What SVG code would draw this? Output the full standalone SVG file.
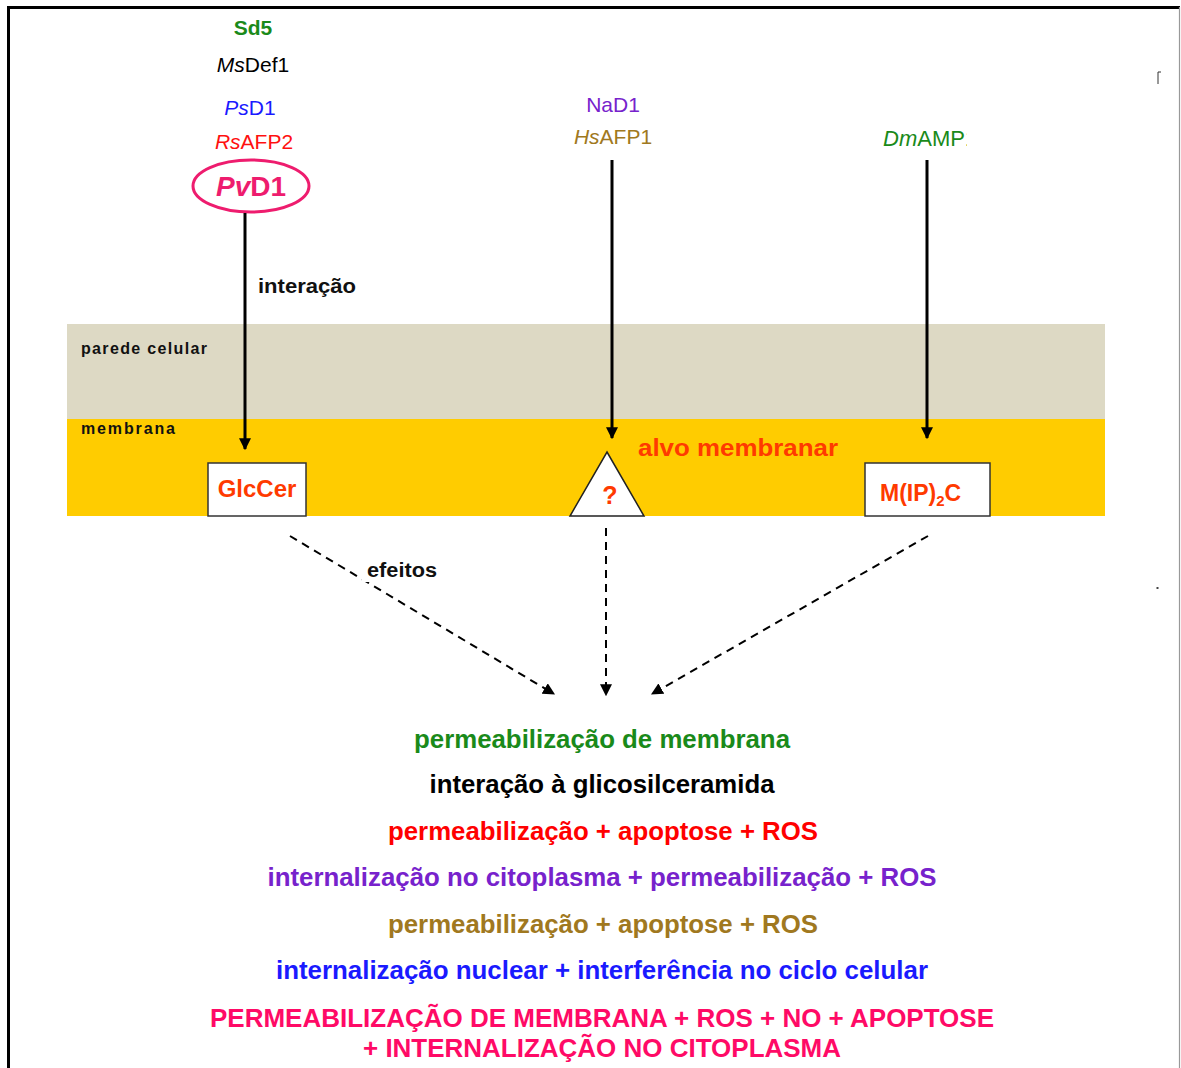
<svg xmlns="http://www.w3.org/2000/svg" width="1181" height="1068" viewBox="0 0 1181 1068">
<defs>
<style>
text{font-family:"Liberation Sans",Arial,sans-serif;}
.b{font-weight:bold;}
.c{text-anchor:middle;}
.res{font-weight:bold;font-size:25px;text-anchor:middle;}
.solid{stroke:#000;stroke-width:3;fill:none;}
.dash{stroke:#000;stroke-width:2;fill:none;stroke-dasharray:8 6;}
.box{fill:#fff;stroke:#333;stroke-width:1.5;}
.tgt{fill:#ff3a00;font-weight:bold;}
</style>
<marker id="ah" viewBox="0 0 10 10" refX="9" refY="5" markerWidth="4" markerHeight="4" orient="auto" markerUnits="strokeWidth">
<path d="M0,0 L10,5 L0,10 z" fill="#000"/>
</marker>
<marker id="ahd" viewBox="0 0 10 10" refX="9" refY="5" markerWidth="6" markerHeight="6" orient="auto" markerUnits="strokeWidth">
<path d="M0,0 L10,5 L0,10 z" fill="#000"/>
</marker>
<clipPath id="clipDm"><rect x="860" y="120" width="107" height="40"/></clipPath>
</defs>
<rect x="0" y="0" width="1181" height="1068" fill="#fff"/>
<g id="frame">
<path d="M8.5,1068 V7.5 H1180" fill="none" stroke="#000" stroke-width="3"/>
<line x1="1179.5" y1="7" x2="1179.5" y2="1068" stroke="#999" stroke-width="1.2"/>
<path d="M1158,84 V72 H1161" fill="none" stroke="#333" stroke-width="1"/>
<rect x="1156.5" y="587" width="2" height="2" fill="#444"/>
</g>
<g id="layers">
<rect x="67" y="324" width="1038" height="95" fill="#ddd9c4"/>
<rect x="67" y="419" width="1038" height="97" fill="#ffcc00"/>
<text x="81" y="354" class="b" font-size="16" textLength="126" lengthAdjust="spacing" fill="#111">parede celular</text>
<text x="81" y="434" class="b" font-size="16" textLength="94" lengthAdjust="spacing" fill="#111">membrana</text>
</g>
<g id="defensins-left">
<text x="253" y="35" class="b c" font-size="21" fill="#1a8a1a">Sd5</text>
<text x="253" y="72" class="c" font-size="21" fill="#000"><tspan font-style="italic">Ms</tspan>Def1</text>
<text x="250" y="115" class="c" font-size="21" fill="#1a1aff"><tspan font-style="italic">Ps</tspan>D1</text>
<text x="254" y="149" class="c" font-size="21" fill="#ff1010"><tspan font-style="italic">Rs</tspan>AFP2</text>
</g>
<g id="pvd1">
<ellipse cx="251" cy="186" rx="58" ry="26" fill="#fff" stroke="#ee1c6e" stroke-width="3"/>
<text x="251" y="196" class="b c" font-size="28" fill="#ee1c6e"><tspan font-style="italic">Pv</tspan>D1</text>
</g>
<g id="defensins-mid">
<text x="613" y="112" class="c" font-size="21" fill="#7722cc">NaD1</text>
<text x="613" y="144" class="c" font-size="21" fill="#a07820"><tspan font-style="italic">Hs</tspan>AFP1</text>
</g>
<g id="defensins-right">
<text x="883" y="146" font-size="22" fill="#1a8a1a" clip-path="url(#clipDm)"><tspan font-style="italic">Dm</tspan>AMP1</text>
</g>
<g id="glccer">
<rect x="208" y="463" width="98" height="53" class="box"/>
<text x="257" y="497" class="tgt c" font-size="24">GlcCer</text>
</g>
<g id="unknown-target">
<polygon points="607,452 644,516 570,516" fill="#fff" stroke="#222" stroke-width="1.5"/>
<text x="610" y="504" class="tgt c" font-size="25">?</text>
<text x="638" y="456" class="tgt" font-size="24" textLength="200" lengthAdjust="spacingAndGlyphs">alvo membranar</text>
</g>
<g id="mip2c">
<rect x="865" y="463" width="125" height="53" class="box"/>
<text x="880" y="501" class="tgt" font-size="23">M(IP)<tspan font-size="15" dy="5">2</tspan><tspan dy="-5">C</tspan></text>
</g>
<g id="connectors">
<line x1="245" y1="213" x2="245" y2="449" class="solid" marker-end="url(#ah)"/>
<line x1="612" y1="160" x2="612" y2="438" class="solid" marker-end="url(#ah)"/>
<line x1="927" y1="160" x2="927" y2="438" class="solid" marker-end="url(#ah)"/>
<line x1="290" y1="536" x2="554" y2="694" class="dash" marker-end="url(#ahd)"/>
<line x1="606" y1="528" x2="606" y2="695" class="dash" marker-end="url(#ahd)"/>
<line x1="928" y1="536" x2="652" y2="694" class="dash" marker-end="url(#ahd)"/>
<text x="258" y="293" class="b" font-size="21" textLength="98" lengthAdjust="spacingAndGlyphs" fill="#111">interação</text>
<rect x="362" y="558" width="76" height="24" fill="#fff"/>
<text x="367" y="577" class="b" font-size="20" textLength="70" lengthAdjust="spacingAndGlyphs" fill="#111">efeitos</text>
</g>
<g id="results">
<text x="602" y="748" class="res" fill="#1a8a1a" textLength="376" lengthAdjust="spacingAndGlyphs">permeabilização de membrana</text>
<text x="602" y="793" class="res" fill="#000" textLength="345" lengthAdjust="spacingAndGlyphs">interação à glicosilceramida</text>
<text x="603" y="840" class="res" fill="#ff0000" textLength="430" lengthAdjust="spacingAndGlyphs">permeabilização + apoptose + ROS</text>
<text x="602" y="886" class="res" fill="#7722cc" textLength="669" lengthAdjust="spacingAndGlyphs">internalização no citoplasma + permeabilização + ROS</text>
<text x="603" y="933" class="res" fill="#a07820" textLength="430" lengthAdjust="spacingAndGlyphs">permeabilização + apoptose + ROS</text>
<text x="602" y="979" class="res" fill="#1a1aff" textLength="652" lengthAdjust="spacingAndGlyphs">internalização nuclear + interferência no ciclo celular</text>
<text x="602" y="1027" class="res" fill="#ff0a66" textLength="784" lengthAdjust="spacingAndGlyphs">PERMEABILIZAÇÃO DE MEMBRANA + ROS + NO + APOPTOSE</text>
<text x="602" y="1057" class="res" fill="#ff0a66" textLength="478" lengthAdjust="spacingAndGlyphs">+ INTERNALIZAÇÃO NO CITOPLASMA</text>
</g>
</svg>
